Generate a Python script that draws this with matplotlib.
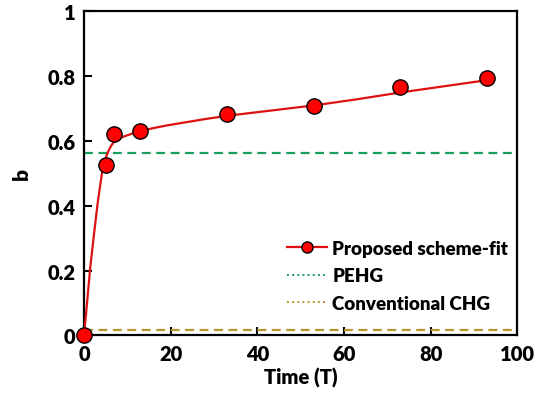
import numpy as np
import matplotlib
matplotlib.use("Agg")
import matplotlib.pyplot as plt
from matplotlib.lines import Line2D
from matplotlib.ticker import FuncFormatter

# measured points
time_T = [0, 5, 7, 13, 33, 53, 73, 93]
b_meas = [0.0, 0.526, 0.622, 0.631, 0.684, 0.709, 0.768, 0.795]

# fit curve
fit_T = [0, 0.7, 1.4, 2.2, 3.1, 3.7, 4.2, 4.7, 5.2, 5.7, 6.2, 6.8, 7.6, 8.6, 9.8,
         12, 14, 16, 19, 23, 28, 33, 43, 53, 63, 73, 83, 93]
fit_b = [0.0, 0.10, 0.205, 0.30, 0.403, 0.46, 0.505, 0.535, 0.555, 0.571, 0.584,
         0.596, 0.605, 0.611, 0.617, 0.627, 0.634, 0.640, 0.648, 0.657, 0.668,
         0.678, 0.694, 0.710, 0.729, 0.750, 0.769, 0.788]

pehg_level = 0.562
chg_level = 0.017

plt.rcParams['font.family'] = ['Lato', 'DejaVu Sans']
plt.rcParams['font.weight'] = 'heavy'

fig = plt.figure(figsize=(5.49, 4.02), dpi=100)
ax = fig.add_axes([0.153, 0.163, 0.7896, 0.806])

green = '#1a9e5c'
gold = '#b8962e'
ax.axhline(pehg_level, color=green, lw=1.6, ls=(0, (4, 2.5)), zorder=2)
ax.axhline(chg_level, color=gold, lw=1.6, ls=(0, (4, 2.5)), zorder=2)
ax.plot(fit_T, fit_b, color='#dd1111', lw=1.6, zorder=3)
ax.plot(time_T, b_meas, 'o', color='#ff0000', mec='black', mew=1.0, ms=11,
        zorder=4, clip_on=False)

ax.set_xlim(0, 100)
ax.set_ylim(0, 1)
ax.set_xticks(np.arange(0, 101, 20))
ax.set_yticks(np.arange(0, 1.01, 0.2))
ax.xaxis.set_major_formatter(FuncFormatter(lambda v, p: '{:g}'.format(round(v, 2))))
ax.yaxis.set_major_formatter(FuncFormatter(lambda v, p: '{:g}'.format(round(v, 2))))
ax.tick_params(direction='in', length=6, width=1.5, labelsize=14.5, pad=6)
for s in ax.spines.values():
    s.set_linewidth(1.6)

ax.set_xlabel('Time (T)', fontsize=14.5, fontweight='heavy', labelpad=3)
ax.set_ylabel('b', fontsize=15, fontweight='heavy', labelpad=12)

handles = [
    Line2D([], [], color='#dd1111', lw=1.6, marker='o', mfc='#ff0000',
           mec='black', ms=8),
    Line2D([], [], color=green, lw=1.4, ls=':'),
    Line2D([], [], color=gold, lw=1.4, ls=':'),
]
ax.legend(handles, ['Proposed scheme-fit', 'PEHG', 'Conventional CHG'],
          loc='lower right', bbox_to_anchor=(1.0, 0.045), frameon=False,
          fontsize=13.5, handlelength=2.1, handletextpad=0.3, labelspacing=0.55,
          borderaxespad=0.1)

fig.savefig('out.png', dpi=100)
